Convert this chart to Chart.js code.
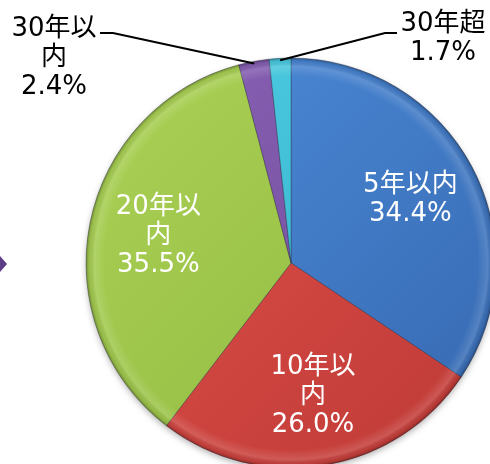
<!DOCTYPE html>
<html>
<head>
<meta charset="utf-8">
<script src="https://cdn.jsdelivr.net/npm/chart.js@4"></script>
<style>
  html, body { margin: 0; padding: 0; background: #fff; }
  #wrap { width: 490px; height: 464px; overflow: hidden; position: relative; }
</style>
</head>
<body>
<div id="wrap"><canvas id="pieChart" width="490" height="464"></canvas></div>
<script>
// data
const categories = ["5年以内", "10年以内", "20年以内", "30年以内", "30年超"];
const shares = [34.4, 26.0, 35.5, 2.4, 1.7];
// how each category name wraps in its label
const labelLines = [["5年以内"], ["10年以", "内"], ["20年以", "内"], ["30年以", "内"], ["30年超"]];

const lightColors = ["#4d8ddb", "#e2514b", "#abd255", "#8a62b6", "#52d0e6"];
const darkColors = ["#3668b0", "#be3a36", "#8fb73f", "#6c4896", "#28a8c2"];

const FONT = '26px "DejaVu Sans", "Noto Sans CJK JP", sans-serif';
const LINE_H = 29;

// outside labels (small slices): text block centre + elbow of leader line
const outside = {
  3: { x: 54, y: 29, elbowFrom: 100, elbowTo: 113, lineY: 33 },
  4: { x: 443, y: 24, elbowFrom: 397, elbowTo: 385, lineY: 33 }
};

function sliceFill(context) {
  const chart = context.chart;
  const i = context.dataIndex;
  if (!chart.chartArea) return lightColors[i];
  const g = chart.ctx.createLinearGradient(90, 60, 490, 464);
  g.addColorStop(0, lightColors[i]);
  g.addColorStop(1, darkColors[i]);
  return g;
}

const piePlugin = {
  id: "pieDecor",
  beforeDatasetsDraw(chart) {
    const ctx = chart.ctx;
    const arc = chart.getDatasetMeta(0).data[0];
    if (!arc) return;
    ctx.save();
    ctx.shadowColor = "rgba(0,0,0,0.35)";
    ctx.shadowBlur = 7;
    ctx.shadowOffsetY = 3;
    ctx.fillStyle = "#888";
    ctx.beginPath();
    ctx.arc(arc.x, arc.y, arc.outerRadius - 1, 0, Math.PI * 2);
    ctx.fill();
    ctx.restore();

    // piece of an arrow at the left edge
    ctx.save();
    ctx.fillStyle = "#5c3d86";
    ctx.beginPath();
    ctx.moveTo(0, 256);
    ctx.lineTo(7, 264);
    ctx.lineTo(0, 272);
    ctx.closePath();
    ctx.fill();
    ctx.restore();
  },
  afterDatasetsDraw(chart) {
    const ctx = chart.ctx;
    const meta = chart.getDatasetMeta(0);
    const first = meta.data[0];
    // rim bevel
    ctx.save();
    const r = first.outerRadius;
    const rg = ctx.createRadialGradient(first.x, first.y, 0, first.x, first.y, r);
    rg.addColorStop(0, "rgba(255,255,255,0)");
    rg.addColorStop(0.91, "rgba(255,255,255,0)");
    rg.addColorStop(0.96, "rgba(255,255,255,0.14)");
    rg.addColorStop(0.985, "rgba(0,0,0,0.06)");
    rg.addColorStop(1, "rgba(0,0,0,0.3)");
    ctx.fillStyle = rg;
    ctx.beginPath();
    ctx.arc(first.x, first.y, r, 0, Math.PI * 2);
    ctx.fill();
    ctx.restore();

    ctx.save();
    ctx.font = FONT;
    ctx.textAlign = "center";
    ctx.textBaseline = "middle";
    meta.data.forEach((arc, i) => {
      const p = arc.getProps(["x", "y", "startAngle", "endAngle", "outerRadius"], true);
      const mid = (p.startAngle + p.endAngle) / 2;
      const lines = labelLines[i].concat([shares[i].toFixed(1) + "%"]);
      const o = outside[i];
      if (o) {
        const ax = p.x + Math.cos(mid) * p.outerRadius * 0.99;
        const ay = p.y + Math.sin(mid) * p.outerRadius * 0.99;
        ctx.strokeStyle = "#000";
        ctx.lineWidth = 2;
        ctx.beginPath();
        ctx.moveTo(o.elbowFrom, o.lineY);
        ctx.lineTo(o.elbowTo, o.lineY);
        ctx.lineTo(ax, ay);
        ctx.stroke();
        ctx.fillStyle = "#000";
        lines.forEach((t, k) => ctx.fillText(t, o.x, o.y + k * LINE_H));
      } else {
        const cx = p.x + Math.cos(mid) * p.outerRadius * 0.66;
        const cy = p.y + Math.sin(mid) * p.outerRadius * 0.66;
        const top = cy - (lines.length - 1) * LINE_H / 2;
        ctx.fillStyle = "#fff";
        lines.forEach((t, k) => ctx.fillText(t, cx, top + k * LINE_H));
      }
    });
    ctx.restore();
  }
};

const ctx = document.getElementById("pieChart").getContext("2d");
const pieChart = new Chart(ctx, {
  type: "pie",
  data: {
    labels: categories,
    datasets: [
      {
        data: shares,
        backgroundColor: sliceFill,
        borderColor: "rgba(40,40,60,0.35)",
        borderWidth: 1,
      },
    ],
  },
  options: {
    responsive: false,
    animation: false,
    radius: 205,
    layout: {
      padding: { left: 92, top: 62, right: 0, bottom: 0 },
    },
    plugins: {
      legend: { display: false },
      tooltip: { enabled: false },
    },
  },
  plugins: [piePlugin],
});
</script>
</body>
</html>
